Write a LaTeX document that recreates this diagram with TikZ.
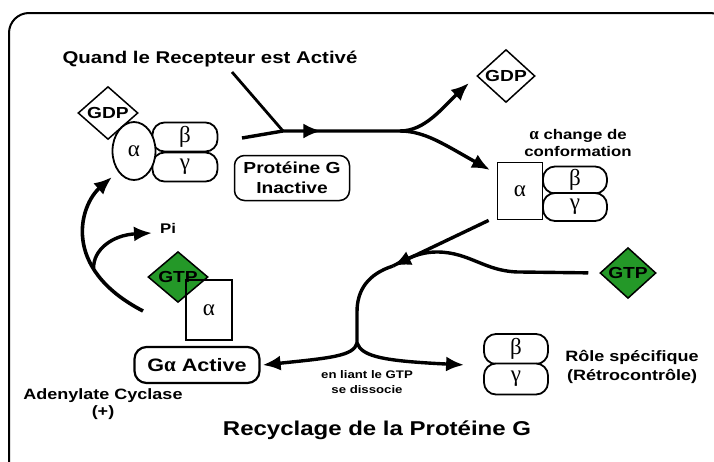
\documentclass[tikz,border=0pt]{standalone}
\usepackage{fontspec}
\setmainfont{Liberation Sans}[FakeStretch=1.2]
\newfontfamily\gr{Liberation Serif}
\usetikzlibrary{shapes.geometric,arrows.meta,decorations.markings}
\definecolor{gtpgreen}{RGB}{36,152,40}
\newcommand\grk{\gr\fontsize{23}{25}\selectfont}
\tikzset{
  sub/.style={draw, line width=1.8pt, fill=white, rounded corners=12pt, inner sep=0pt, font=\grk},
  dia/.style={diamond, draw, line width=1.5pt, inner sep=0pt, font=\bfseries\fontsize{16}{18}\selectfont},
  conn/.style={line width=3.4pt},
  arr/.style={-{Latex[length=18pt,width=15pt]}},
  txt/.style={align=center, inner sep=0pt}
}
\begin{document}
\begin{tikzpicture}[x=1pt,y=-1pt]
\useasboundingbox (0,0) rectangle (714,461);
\clip (0,0) rectangle (714,461);
\draw[line width=2pt, rounded corners=20pt] (9,480) -- (9,13) -- (730,13) -- (730,480);

% texts
\node[txt, anchor=base, font=\bfseries\fontsize{17}{20}\selectfont] (quand) at (210,63) {Quand le Recepteur est Activé};
\node[txt, anchor=base, font=\bfseries\fontsize{20}{24}\selectfont] (title) at (377,435) {Recyclage de la Protéine G};
\node[txt, anchor=base, font=\bfseries\fontsize{14}{16}\selectfont] (pi) at (168,233) {Pi};
\node[txt, font=\bfseries\fontsize{15}{17}\selectfont] (adc) at (103,404) {Adenylate Cyclase\\(+)};
\node[txt, font=\bfseries\fontsize{15}{19}\selectfont] (role) at (632,367) {Rôle spécifique\\(Rétrocontrôle)};
\node[txt, font=\bfseries\fontsize{11}{15}\selectfont] (enl) at (367,382) {en liant le GTP\\se dissocie};
\node[txt, font=\bfseries\fontsize{14}{17}\selectfont] (conf) at (578,143) {{\gr\fontsize{17}{17}\selectfont α} change de\\conformation};

% top-left complex
\node[dia, fill=white, minimum width=60pt, minimum height=46pt] (gdp1) at (108,113) {GDP};
\node[sub, minimum width=65pt, minimum height=29pt] (beta1) at (185,137) {β};
\node[sub, minimum width=65pt, minimum height=29pt] (gamma1) at (185,167) {γ};
\node[ellipse, draw, line width=1.8pt, fill=white, minimum width=43pt, minimum height=58pt, inner sep=0pt, font=\grk] (alpha1) at (134,151) {α};

% inactive box
\node[draw, line width=1.5pt, rounded corners=10pt, minimum width=115pt, minimum height=45pt, align=center, inner sep=0pt, font=\bfseries\fontsize{16}{20}\selectfont] (inact) at (292,178) {Protéine G\\Inactive};

% top-right
\node[dia, fill=white, minimum width=58pt, minimum height=46pt] (gdp2) at (506,76) {GDP};
\node[sub, minimum width=64pt, minimum height=27pt] (beta2) at (575,180) {β};
\node[sub, minimum width=64pt, minimum height=28pt] (gamma2) at (575,207) {γ};
\node[draw, line width=1.8pt, fill=white, minimum width=45pt, minimum height=57pt, inner sep=0pt, font=\grk] (alpha2) at (520,191) {α};

% GTP right
\node[dia, fill=gtpgreen, minimum width=56pt, minimum height=43pt] (gtp2) at (628,273) {GTP};

% beta gamma bottom
\node[sub, minimum width=64pt, minimum height=30pt] (beta3) at (516,349) {β};
\node[sub, minimum width=64pt, minimum height=31pt] (gamma3) at (516,379) {γ};

% G alpha active
\node[draw, line width=2.2pt, rounded corners=12pt, minimum width=125pt, minimum height=36pt, inner sep=0pt, font=\bfseries\fontsize{18}{20}\selectfont] (galpha) at (197,365) {G{\gr\fontsize{21}{21}\selectfont α} Active};

% GTP + alpha bottom-left
\node[draw, line width=1.5pt, fill=white, minimum width=45pt, minimum height=59pt, inner sep=0pt, font=\grk] (alpha3) at (209,310) {α};
\node[dia, fill=gtpgreen, minimum width=60pt, minimum height=48pt] (gtp1) at (178,277) {GTP};
\draw[line width=1.5pt] (alpha3.north west) rectangle (alpha3.south east);

% top connectors
\coordinate (rc) at (232,72);
\coordinate (s1) at (242,138);
\coordinate (j1) at (283,131);
\coordinate (j2) at (400,131);
\coordinate (gdpTip) at (469,83);
\coordinate (a2Tip) at (490,170);
\draw[line width=2.8pt] (rc) -- (j1);
\draw[conn, postaction=decorate, decoration={markings, mark=at position 80pt with {\arrow{Latex[length=18pt,width=15pt]}}}] (s1) .. controls (262,134) .. (j1) -- (j2);
\draw[conn, arr] (j2) .. controls (425,131) and (442,108) .. (gdpTip);
\draw[conn, arr] (j2) .. controls (425,131) and (445,145) .. (a2Tip);

% right connectors
\coordinate (m1) at (393,266);
\coordinate (j3) at (357,343);
\draw[conn, arr] ([xshift=-8pt]alpha2.south west) -- (m1);
\draw[conn, shorten <=11pt] (gtp2.west) -- (520,272) .. controls (485,272) and (470,252) .. (437,252) .. controls (420,252) and (408,258) .. (m1);
\draw[conn] (m1) .. controls (368,274) and (357,290) .. (357,312) -- (j3);
\draw[conn, arr] (j3) .. controls (354,356) and (330,358) .. ([xshift=2pt]galpha.east);
\draw[conn, arr] (j3) .. controls (362,357) and (385,361) .. ([xshift=-19pt]beta3.south west);

% left connectors
\coordinate (c1) at (143,311);
\coordinate (a1Tip) at (112,177);
\coordinate (piTip) at (152,233);
\draw[conn, line width=3.6pt, arr] (c1) .. controls (60,268) and (80,205) .. (a1Tip) coordinate[pos=0.3] (pb);
\draw[conn, arr] (pb) .. controls (93,250) and (112,235) .. (piTip);
\end{tikzpicture}
\end{document}
